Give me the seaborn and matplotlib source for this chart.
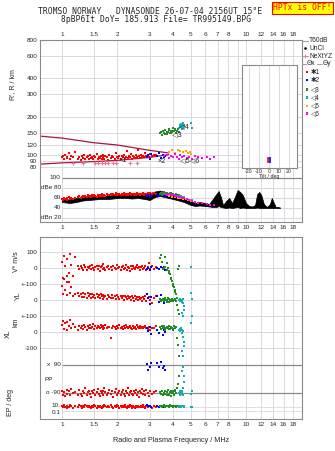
import numpy as np
import matplotlib
matplotlib.use("Agg")
import matplotlib.pyplot as plt
from matplotlib.lines import Line2D
from matplotlib.patches import Rectangle
import seaborn as sns

nan = np.nan

# axis ticks / labels
freq_labels_top = [1, 1.5, 2, 3, 4, 5, 6, 7, 8, 10, 12, 14, 16, 18]
freq_labels_mid = [1, 1.5, 2, 3, 4, 5, 6, 7, 8, 9, 10, 12, 14, 16, 18]
height_ticks = [80, 90, 100, 120, 150, 200, 300, 400, 600, 800]
db_ticks = [100, 80, 60, 40, 20]
db_labels = ["100", "dBe 80", "60", "40", "dBn 20"]
tilt_ticks = [-20, -10, 0, 10, 20]

# red echoes (*1): freq MHz, height km, amplitude dB, V* m/s, YL km, XL km, PP deg, EP deg
red_f = [1.00, 1.01, 1.03, 1.04, 1.06, 1.07, 1.09, 1.10, 1.12, 1.14,
         1.17, 1.22, 1.24, 1.26, 1.28, 1.30, 1.32, 1.34, 1.36, 1.38,
         1.40, 1.42, 1.44, 1.46, 1.48, 1.50, 1.52, 1.54, 1.56, 1.58,
         1.60, 1.62, 1.64, 1.66, 1.68, 1.70, 1.72, 1.75, 1.78, 1.81,
         1.84, 1.87, 1.90, 1.93, 1.96, 1.99, 2.02, 2.05, 2.08, 2.11,
         2.14, 2.17, 2.20, 2.23, 2.26, 2.29, 2.32, 2.35, 2.38, 2.41,
         2.44, 2.47, 2.50, 2.53, 2.56, 2.59, 2.62, 2.65, 2.68, 2.71,
         2.74, 2.78, 2.82, 2.87, 2.92, 2.97, 3.02, 3.08, 3.15, 3.25]
red_h = [96, 99, 94, 101, 97, 95, 104, 93, 98, 96,
         106, 94, 97, 92, 99, 95, 101, 93, 96, 98,
         94, 100, 95, 97, 93, 99, 96, 102, 94, 97,
         95, 98, 93, 100, 96, 94, 99, 97, 92, 101,
         95, 98, 96, 93, 104, 97, 95, 99, 94, 98,
         96, 101, 93, 97, 108, 95, 99, 96, 102, 94,
         98, 97, 95, 100, 96, 110, 98, 95, 101, 97,
         99, 96, 103, 98, 100, 97, 102, 99, 101, 100]
red_db = [58, 55, 60, 57, 59, 56, 61, 58, 60, 57,
          60, 61, 63, 60, 62, 64, 61, 63, 62, 65,
          63, 64, 62, 65, 63, 66, 64, 62, 65, 63,
          66, 64, 67, 65, 63, 66, 64, 67, 65, 66,
          68, 66, 67, 65, 69, 66, 68, 67, 65, 68,
          66, 69, 67, 65, 68, 66, 67, 69, 66, 68,
          67, 65, 68, 66, 69, 67, 68, 66, 68, 67,
          69, 66, 68, 67, 70, 66, 69, 68, 70, 67]
red_v = [40, -60, 75, 10, -85, 55, -30, 85, 20, -50,
         70, 10, -5, 15, 0, -10, 20, 5, -15, 8,
         -3, 12, -8, 18, 2, -12, 6, 15, -5, 10,
         -18, 4, 12, -6, 22, 0, -10, 8, 14, -4,
         6, -14, 10, 2, -8, 16, -2, 8, -12, 4,
         12, -6, 0, 18, -10, 6, 2, -16, 10, -4,
         14, 0, -8, 6, 20, -2, 8, -12, 4, 10,
         -6, 2, 12, -10, 6, 30, -4, 10, -8, 4]
red_yl = [90, 40, 130, 60, 150, 30, 110, 45, 80, 25,
          35, 45, 22, 40, 18, 44, 20, 38, 15, 42,
          24, 36, 12, 40, 20, 32, 10, 38, 18, 30,
          14, 36, 22, 8, 34, 16, 28, 6, 30, 20,
          10, 32, 14, 26, 4, 30, 18, 8, 28, 12,
          24, 2, 26, 16, 6, 28, 10, 20, 0, 22,
          12, -4, 24, 8, 18, -2, 20, 6, 14, -6,
          16, 4, 22, -8, 10, 18, -2, -20, 12, 24]
red_xl = [45, 70, 20, 55, 10, 65, 35, 75, 25, 50,
          30, 15, 40, 25, 35, 20, 45, 30, 10, 38,
          28, 42, 22, 33, 48, 18, 36, 26, 40, 30,
          24, 44, 32, 20, 38, 28, 46, 22, 34, 30,
          -35, 26, 40, 30, 18, 36, 24, 42, 28, 32,
          20, 38, 26, 44, 30, 22, 34, 40, 28, 16,
          36, 26, 32, 20, 42, 30, 24, 38, 28, 34,
          22, 30, 36, 26, 18, 32, 10, 28, 24, 35]
red_pp = [-75, -100, -85, -110, -70, -95, -80, -105, -65, -90,
          -85, -100, -70, -95, -110, -80, -90, -60, -105, -85,
          -75, -95, -115, -80, -90, -70, -100, -85, -65, -95,
          -110, -80, -90, -75, -100, -60, -85, -105, -90, -70,
          -95, -80, -115, -85, -65, -100, -90, -75, -105, -85,
          -70, -95, -110, -80, -90, -60, -100, -85, -75, -95,
          -105, -80, -90, -70, -100, -85, -115, -75, -90, -65,
          -95, -80, -100, -70, -90, -110, -80, -95, -85, -75]
red_ep = [20, 8, 30, 12, 5, 25, 10, 35, 15, 6,
          18, 9, 28, 14, 7, 22, 11, 32, 16, 8,
          24, 12, 6, 20, 10, 30, 14, 5, 26, 9,
          18, 13, 7, 22, 11, 34, 15, 8, 19, 10,
          27, 12, 6, 21, 9, 30, 14, 7, 24, 11,
          17, 8, 28, 13, 6, 20, 10, 32, 15, 7,
          23, 11, 5, 19, 9, 26, 13, 8, 21, 10,
          29, 12, 6, 18, 9, 24, 14, 7, 20, 11]

# blue echoes (*2)
blue_f = [2.90, 2.95, 3.00, 3.05, 3.30, 3.38, 3.45, 3.52, 3.58, 3.62]
blue_h = [97, 100, 94, 102, 98, 104, 95, 101, 97, 99]
blue_db = [63, 65, 62, 64, 66, 64, 67, 65, 66, 63]
blue_v = [-8, 2, -12, 5, 0, -6, 8, -2, 4, -10]
blue_yl = [35, 10, -25, 18, 22, -15, 30, 5, -20, 12]
blue_xl = [25, 5, 30, -15, 10, -5, 20, -18, 15, 0]
blue_pp = [95, 60, 80, 105, 100, 75, 110, 70, 85, 60]
blue_ep = [30, 15, 20, 10, 25, 12, 18, 22, 8, 14]

# green echoes (<3)
green_f = [3.40, 3.45, 3.50, 3.55, 3.60, 3.65, 3.70, 3.75, 3.80, 3.85,
           3.90, 3.95, 4.00, 4.05, 4.10, 4.15, 4.20, 4.25, 4.30, 3.62,
           3.72, 3.82, 3.92, 4.02, 4.12]
green_h = [148, 152, 145, 155, 150, 158, 147, 153, 160, 149,
           156, 151, 162, 154, 158, 150, 156, 160, 153, 146,
           151, 157, 149, 155, 159]
green_db = [68, 70, 66, 69, 71, 67, 70, 68, 66, 69,
            67, 65, 68, 66, 64, 67, 65, 63, 66, 70,
            68, 67, 69, 66, 64]
green_v = [60, 80, 40, -5, 0, 5, -10, 2, -20, -40,
           -60, -80, -100, -120, -140, -160, -185, -5, 10, 70,
           30, -30, -70, -110, -150]
green_yl = [5, -5, 0, 8, -8, 3, -3, 10, -10, 2,
            -2, 6, -6, 0, 4, -4, -30, -60, -90, 12,
            -12, 7, -7, 1, -1]
green_xl = [30, 20, 35, 25, 40, 15, 28, 22, 38, 18,
            32, 26, 12, 36, 24, 30, -40, -80, -150, 28,
            34, 20, 26, 16, 30]
green_pp = [-85, -95, -75, -100, -90, -80, -105, -70, -95, -85,
            -110, -90, -80, -100, -75, -90, -60, -30, 20, -95,
            -85, -100, -80, -90, -70]
green_ep = [15, 25, 10, 20, 30, 12, 18, 22, 8, 28,
            14, 20, 10, 24, 16, 12, 20, 15, 10, 18,
            26, 14, 22, 12, 16]

# cyan echoes (<4)
cyan_f = [4.30, 4.35, 4.40, 4.42, 4.45, 4.48, 4.50, 4.52, 4.55, 4.58,
          4.60, 4.38, 4.47, 4.56, 5.00, 5.10]
cyan_h = [162, 168, 172, 165, 175, 160, 170, 178, 166, 173,
          169, 171, 176, 163, 180, 163]
cyan_db = [62, 64, 60, 63, 61, 59, 62, 60, 58, 61,
           59, 63, 60, 58, 56, 55]
cyan_v = [nan, nan, nan, nan, nan, nan, nan, nan, nan, nan,
          nan, nan, nan, nan, 5, nan]
cyan_yl = [0, -5, 5, -8, 2, -12, -3, 6, -20, -40,
           -60, 3, -80, -100, 45, 5]
cyan_xl = [10, 20, 5, 15, 25, -5, 12, 8, -30, -60,
           -90, 18, -120, -150, 56, 100]
cyan_pp = [-90, -80, -100, -85, -95, -75, -90, -105, -60, -20,
           20, -95, 50, 80, -95, -80]
cyan_ep = [15, 20, 10, 25, 12, 18, 22, 14, 16, 10,
           20, 12, 18, 14, 12, 10]

# orange (<5) and magenta (<6) echoes, height and amplitude only
orange_f = [3.80, 3.95, 4.10, 4.25, 4.40, 4.55, 4.70, 4.85, 4.95, 5.05]
orange_h = [106, 109, 104, 110, 107, 105, 108, 104, 106, 102]
orange_db = [63, 61, 62, 60, 59, 58, 57, 56, 55, 54]
magenta_f = [3.60, 3.70, 3.80, 3.90, 4.00, 4.10, 4.20, 4.30, 4.40, 4.50,
             4.60, 4.75, 4.90, 5.10, 5.30, 5.50, 5.80, 6.10, 6.40, 6.70]
magenta_h = [98, 101, 95, 99, 96, 102, 97, 94, 100, 96,
             98, 95, 97, 94, 98, 96, 95, 97, 94, 96]
magenta_db = [68, 66, 67, 65, 66, 64, 63, 62, 61, 60,
              59, 58, 56, 54, 52, 50, 49, 47, 46, 45]

# NeXtYZ markers
nexyz_f = [1.15, 1.30, 1.51, 1.57, 1.65, 1.71, 1.78, 1.89, 1.97, 2.34, 2.55]
nexyz_h = [87, 87, 87, 87, 87, 87, 87, 87, 87, 87, 87]

# model curves
curve_f = [0.76, 1.0, 1.5, 2.0, 3.0, 3.8]
curve_upper_h = [141, 136, 125, 120, 109, 104]
curve_lower_h = [85, 87, 89, 91, 96, 101]

# amplitude trace (min / max)
amp_f = [1.00, 1.10, 1.20, 1.30, 1.40, 1.50, 1.60, 1.70, 1.80, 1.90,
         2.00, 2.20, 2.40, 2.60, 2.80, 3.00, 3.20, 3.40, 3.60, 3.80,
         4.00, 4.30, 4.60, 5.00, 5.30, 5.60, 6.00, 6.30, 6.60, 6.90,
         7.10, 7.30, 7.50, 7.80, 8.10, 8.40, 8.70, 9.00, 9.30, 9.60,
         10.0, 10.4, 10.8, 11.2, 11.5, 11.8, 12.1, 12.5, 13.0, 13.5,
         13.8, 14.1, 14.5, 15.0, 15.3]
amp_lo = [52, 50, 52, 55, 56, 57, 58, 58, 58, 59,
          60, 60, 59, 60, 58, 56, 62, 64, 62, 60,
          58, 55, 52, 46, 44, 45, 44, 43, 42, 42,
          44, 42, 41, 40, 41, 40, 41, 42, 40, 41,
          40, 40, 40, 40, 41, 40, 40, 40, 40, 40,
          40, 40, 40, 40, 40]
amp_hi = [58, 57, 60, 62, 62, 63, 64, 65, 65, 66,
          66, 67, 67, 68, 69, 70, 73, 75, 72, 70,
          68, 64, 60, 54, 50, 52, 50, 48, 58, 68,
          74, 62, 46, 54, 60, 50, 62, 76, 72, 66,
          50, 44, 43, 46, 68, 72, 66, 48, 42, 48,
          60, 52, 42, 42, 41]

# tilt inset
tilt_deg = [-0.8, 0.8]
tilt_h_lo = [87, 87]
tilt_h_hi = [96, 96]

RED, BLUE, GREEN, CYAN = "#ff0000", "#0000ff", "#228b22", "#10b0b0"
ORANGE, MAGENTA, PINK = "#ffa500", "#ff00ff", "#e8789a"
GRID, FRAME, CURVE = "#dcd8e2", "#8a8a8a", "#a8183c"

sns.set_style("white")
plt.rcParams["font.family"] = ["Liberation Sans", "DejaVu Sans"]

W, H = 335, 451
F_LO, F_HI = 0.759, 20.15


def rect(l, t, r, b):
    return [l / W, 1 - b / H, (r - l) / W, (b - t) / H]


def fmt(v):
    return f"{v:g}"


def style(ax):
    for s in ax.spines.values():
        s.set_color(FRAME)
        s.set_linewidth(0.8)
    ax.tick_params(length=0, labelsize=4.6, pad=2)
    ax.minorticks_off()


def dots(ax, x, y, c, s=4):
    sns.scatterplot(x=x, y=y, ax=ax, color=c, marker="s", s=s,
                    linewidth=0, legend=False, zorder=3)


fig = plt.figure(figsize=(W / 100, H / 100), dpi=100)

# ---------------- height panel ----------------
ah = fig.add_axes(rect(40, 40, 302, 176))
ah.set_xscale("log")
ah.set_yscale("log")
ah.set_xlim(F_LO, F_HI)
ah.set_ylim(68.6, 785)
for f in freq_labels_mid:
    ah.axvline(f, color=GRID, lw=0.7, zorder=0)
for h in height_ticks:
    ah.axhline(h, color=GRID, lw=0.7, zorder=0)
style(ah)
ah.spines["bottom"].set_visible(False)
ah.xaxis.tick_top()
ah.set_xticks(freq_labels_top)
ah.set_xticklabels([fmt(v) for v in freq_labels_top])
ah.set_yticks(height_ticks)
ah.set_yticklabels([str(v) for v in height_ticks])
ah.minorticks_off()

sns.lineplot(x=curve_f, y=curve_upper_h, ax=ah, color=CURVE, lw=0.9,
             sort=False, estimator=None)
sns.lineplot(x=curve_f, y=curve_lower_h, ax=ah, color=CURVE, lw=0.9,
             sort=False, estimator=None)
dots(ah, red_f, red_h, RED)
dots(ah, blue_f, blue_h, BLUE)
dots(ah, green_f, green_h, GREEN)
dots(ah, cyan_f, cyan_h, CYAN)
dots(ah, orange_f, orange_h, ORANGE)
dots(ah, magenta_f, magenta_h, MAGENTA)
sns.scatterplot(x=nexyz_f, y=nexyz_h, ax=ah, color=PINK, marker="+", s=10,
                linewidth=0.8, legend=False, zorder=4)
for lab, f, h in [("×1", 2.02, 90), ("×2", 3.3, 89), ("◁3", 3.95, 146),
                  ("◁4", 4.3, 168), ("◁5◁6", 4.4, 90)]:
    ah.text(f, h, lab, fontsize=5.2, va="center", ha="left", zorder=5)

# ---------------- amplitude panel ----------------
aa = fig.add_axes(rect(40, 176, 302, 222))
aa.set_xscale("log")
aa.set_xlim(F_LO, F_HI)
aa.set_ylim(12, 104)
for f in freq_labels_mid:
    aa.axvline(f, color=GRID, lw=0.7, zorder=0)
aa.hlines([80, 60, 40, 20], 1, F_HI, color=GRID, lw=0.8, zorder=0)
aa.hlines([100], 1, F_HI, color=FRAME, lw=0.9, zorder=1)
style(aa)
aa.spines["top"].set_visible(False)
aa.set_yticks([])
aa.set_xticks(freq_labels_mid)
aa.set_xticklabels([fmt(v) for v in freq_labels_mid])
aa.minorticks_off()
for v, lab in zip(db_ticks, db_labels):
    aa.text(0.985, v, lab, fontsize=4.6, ha="right", va="center")
aa.fill_between(amp_f, amp_lo, amp_hi, color="black", lw=0.5, zorder=2)
dots(aa, red_f, red_db, RED)
dots(aa, blue_f, blue_db, BLUE)
dots(aa, green_f, green_db, GREEN)
dots(aa, cyan_f, cyan_db, CYAN)
dots(aa, orange_f, orange_db, ORANGE)
dots(aa, magenta_f, magenta_db, MAGENTA)

# ---------------- tilt inset ----------------
ai = fig.add_axes(rect(242, 65, 297, 168))
ai.set_xlim(-27, 28)
ai.set_yscale("log")
ai.set_ylim(79, 501)
for t in tilt_ticks:
    ai.axvline(t, color=GRID, lw=0.7, zorder=0)
style(ai)
ai.tick_params(labelsize=3.8, pad=0.5)
ai.set_xticks(tilt_ticks)
ai.set_xticklabels([str(t) for t in tilt_ticks])
ai.set_yticks([])
ai.minorticks_off()
ai.set_xlabel("Tilt / deg", fontsize=3.8, labelpad=0.5)
ai.vlines(tilt_deg, tilt_h_lo, tilt_h_hi, colors=[RED, BLUE], lw=1.2)

# ---------------- bottom panel ----------------
TOP, BOT = 237, 419
axb = fig.add_axes(rect(40, TOP, 302, BOT))
axb.set_xscale("log")
axb.set_xlim(F_LO, F_HI)
axb.set_ylim(BOT, TOP)
rows = [252, 268, 284, 300, 316, 332, 348]
row_labels = ["100", "0", "+-100", "0", "+-100", "0", "-100"]
for f in freq_labels_top:
    axb.axvline(f, color=GRID, lw=0.7, zorder=0)
for r in rows:
    axb.axhline(r, color=GRID, lw=0.7, zorder=0)
axb.hlines([407, 411], 1, F_HI, color=GRID, lw=0.6, zorder=0)
axb.hlines([365, 393], 1, F_HI, color=FRAME, lw=0.9, zorder=1)
style(axb)
axb.set_yticks(rows)
axb.set_yticklabels(row_labels)
axb.set_xticks(freq_labels_top)
axb.set_xticklabels([fmt(v) for v in freq_labels_top])
axb.minorticks_off()
axb.set_xlabel("Radio and Plasma Frequency / MHz", fontsize=5.2, labelpad=7)
for r, lab in [(365, "x  90"), (393, "o -90"), (406, "10."), (413, "0.1")]:
    axb.text(0.985, r, lab, fontsize=4.6, ha="right", va="center")
axb.text(0.80, 380, "PP", fontsize=4.6, ha="left", va="center")


def lin_lim(val0, px0, px_per_unit):
    return (val0 - (BOT - px0) / px_per_unit, val0 + (px0 - TOP) / px_per_unit)


def data_ax(r, ylim, scale="linear"):
    a = fig.add_axes(r, sharex=axb)
    a.set_yscale(scale)
    a.set_ylim(*ylim)
    a.axis("off")
    return a


full = rect(40, TOP, 302, BOT)
av = data_ax(full, lin_lim(0, 268, 0.16))
ayl = data_ax(full, lin_lim(0, 300, 0.16))
axl = data_ax(full, lin_lim(0, 332, 0.16))
app = data_ax(full, lin_lim(90, 365, 28 / 180))
aep = data_ax(rect(40, 398, 302, BOT),
              (10 ** (1 - 12 / 3.5), 10 ** (1 + 9 / 3.5)), scale="log")

panels = [
    (av, [(red_f, red_v, RED), (blue_f, blue_v, BLUE), (green_f, green_v, GREEN), (cyan_f, cyan_v, CYAN)]),
    (ayl, [(red_f, red_yl, RED), (blue_f, blue_yl, BLUE), (green_f, green_yl, GREEN), (cyan_f, cyan_yl, CYAN)]),
    (axl, [(red_f, red_xl, RED), (blue_f, blue_xl, BLUE), (green_f, green_xl, GREEN), (cyan_f, cyan_xl, CYAN)]),
    (app, [(red_f, red_pp, RED), (blue_f, blue_pp, BLUE), (green_f, green_pp, GREEN), (cyan_f, cyan_pp, CYAN)]),
    (aep, [(red_f, red_ep, RED), (blue_f, blue_ep, BLUE), (green_f, green_ep, GREEN), (cyan_f, cyan_ep, CYAN)]),
]
for ax_, series in panels:
    for xs, ys, c in series:
        dots(ax_, xs, ys, c)

# ---------------- outer texts ----------------
fig.text(150 / W, 1 - 12 / H, "TROMSO NORWAY   DYNASONDE 26-07-04 2156UT 15°E",
         ha="center", va="center", family="DejaVu Sans Mono", fontsize=5.8)
fig.text(156 / W, 1 - 20 / H, "8pBP6It DoY= 185.913 File= TR995149.BPG",
         ha="center", va="center", family="DejaVu Sans Mono", fontsize=5.8)
fig.text(302.5 / W, 1 - 8 / H, "HPTx is OFF!", ha="center", va="center",
         color="red", family="DejaVu Sans Mono", fontsize=5.8,
         bbox=dict(boxstyle="square,pad=0.15", fc="yellow", ec="red", lw=0.8))

fig.text(13 / W, 1 - 85 / H, "R', R / km", rotation=90, ha="center", va="center", fontsize=5)
fig.text(17 / W, 1 - 262 / H, "V* m/s", rotation=90, ha="center", va="center", fontsize=5)
fig.text(18 / W, 1 - 296 / H, "YL", rotation=90, ha="center", va="center", fontsize=5)
fig.text(16 / W, 1 - 322 / H, "km", rotation=90, ha="center", va="center", fontsize=5)
fig.text(8 / W, 1 - 334 / H, "XL", rotation=90, ha="center", va="center", fontsize=5)
fig.text(10 / W, 1 - 403 / H, "EP / deg", rotation=90, ha="center", va="center", fontsize=5)

# ---------------- legend ----------------
def fline(x0, x1, y, c):
    fig.add_artist(Line2D([x0 / W, x1 / W], [1 - y / H, 1 - y / H],
                          transform=fig.transFigure, color=c, lw=0.8))


def ftext(x, y, s):
    fig.text(x / W, 1 - y / H, s, ha="left", va="center", fontsize=4.8)


fline(302, 308, 41, "#a0a0a0")
ftext(309, 41, "T60dB")
fig.add_artist(Line2D([305 / W], [1 - 48 / H], transform=fig.transFigure,
                      marker="s", ms=0.8, color="black", lw=0))
ftext(309, 48, "UnCl")
fig.add_artist(Line2D([305 / W], [1 - 56 / H], transform=fig.transFigure,
                      marker="+", ms=3, mew=0.7, color=PINK, lw=0))
fline(302, 308, 56, PINK)
ftext(309, 56, "NeXtYZ")
fline(302, 306, 63.5, PINK)
ftext(307, 63.5, "Θx")
fline(317, 322, 63.5, "#a0a0e8")
ftext(323, 63.5, "Θy")
for y, c, lab in [(72, RED, "✱1"), (80, BLUE, "✱2"), (89.5, GREEN, "◁3"),
                  (97.5, CYAN, "◁4"), (106, ORANGE, "◁5"), (113.5, MAGENTA, "◁6")]:
    fig.add_artist(Rectangle(((305.5) / W, 1 - (y + 1.3) / H), 2.6 / W, 2.6 / H,
                             transform=fig.transFigure, color=c, lw=0))
    ftext(311, y, lab)

fig.savefig("out.png", dpi=100)
